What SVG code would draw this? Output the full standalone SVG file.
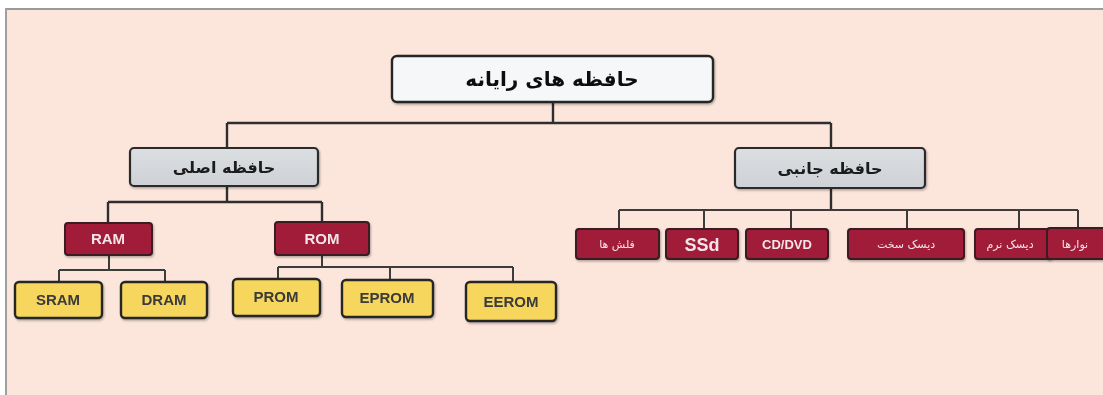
<svg xmlns="http://www.w3.org/2000/svg" width="1103" height="395" viewBox="0 0 1103 395">
  <style>
    .wire { fill: none; stroke: #3c3c3c; stroke-width: 2; }
    .wire-thick { fill: none; stroke: #2e2e2e; stroke-width: 2.4; }
    .root { fill: #f5f7f9; stroke: #262626; stroke-width: 2.4; }
    .group { fill: url(#grayFill); stroke: #2b2b2b; stroke-width: 2.2; }
    .red { fill: #a11a37; stroke: #3a1a20; stroke-width: 2; }
    .yellow { fill: #f6d65c; stroke: #262626; stroke-width: 2.4; }
    .fa { font-family: "DejaVu Sans", "Noto Sans", sans-serif; text-anchor: middle; direction: rtl; }
    .lat { font-family: "Liberation Sans", "DejaVu Sans", sans-serif; text-anchor: middle; font-weight: bold; }
    .t-root { font-size: 20px; font-weight: bold; fill: #111; }
    .t-group { font-size: 16px; font-weight: bold; fill: #1a1a1a; }
    .t-red { fill: #f3e6e8; }
    .t-yellow { fill: #3a3a3a; font-size: 15px; }
  </style>
  <defs>
    <linearGradient id="grayFill" x1="0" y1="0" x2="0" y2="1">
      <stop offset="0" stop-color="#dcdfe2"/>
      <stop offset="1" stop-color="#cdd1d5"/>
    </linearGradient>
    <filter id="shadow" x="-10%" y="-20%" width="130%" height="150%">
      <feDropShadow dx="1" dy="1.5" stdDeviation="1" flood-color="#000" flood-opacity="0.3"/>
    </filter>
  </defs>

  <!-- page -->
  <rect x="0" y="0" width="1103" height="395" fill="#ffffff"/>
  <rect x="5" y="9" width="1098" height="386" fill="#fce6db"/>
  <rect x="5" y="8" width="1098" height="2" fill="#9a9a9a"/>
  <rect x="5" y="8" width="2" height="387" fill="#a0a0a0"/>

  <!-- connectors -->
  <g id="connectors">
    <path class="wire-thick" d="M553 102 V123 M227 123 H831 M227 123 V148 M831 123 V148"/>
    <path class="wire-thick" d="M227 186 V202 M108 202 H322 M108 202 V223 M322 202 V222"/>
    <path class="wire-thick" d="M831 188 V210"/>
    <path class="wire" d="M619 210 H1078 M619 210 V229 M704 210 V229 M791 210 V229 M907 210 V229 M1019 210 V229 M1078 210 V229"/>
    <path class="wire" d="M109 255 V270 M59 270 H165 M59 270 V282 M165 270 V282"/>
    <path class="wire" d="M322 255 V267 M278 267 H513 M278 267 V279 M390 267 V280 M513 267 V282"/>
  </g>

  <!-- root -->
  <g id="node-root" filter="url(#shadow)">
    <rect class="root" x="392" y="56" width="321" height="46" rx="5"/>
    <text class="fa t-root" x="552" y="86">حافظه های رایانه</text>
  </g>

  <!-- second level -->
  <g id="node-main" filter="url(#shadow)">
    <rect class="group" x="130" y="148" width="188" height="38" rx="4"/>
    <text class="fa t-group" x="224" y="173">حافظه اصلی</text>
  </g>
  <g id="node-secondary" filter="url(#shadow)">
    <rect class="group" x="735" y="148" width="190" height="40" rx="4"/>
    <text class="fa t-group" x="830" y="174">حافظه جانبی</text>
  </g>

  <!-- main memory types -->
  <g id="node-ram" filter="url(#shadow)">
    <rect class="red" x="65" y="223" width="87" height="32" rx="3"/>
    <text class="lat t-red" x="108" y="244" font-size="15">RAM</text>
  </g>
  <g id="node-rom" filter="url(#shadow)">
    <rect class="red" x="275" y="222" width="94" height="33" rx="3"/>
    <text class="lat t-red" x="322" y="244" font-size="15">ROM</text>
  </g>

  <!-- RAM / ROM kinds -->
  <g id="node-sram" filter="url(#shadow)">
    <rect class="yellow" x="15" y="282" width="87" height="36" rx="4"/>
    <text class="lat t-yellow" x="58" y="305">SRAM</text>
  </g>
  <g id="node-dram" filter="url(#shadow)">
    <rect class="yellow" x="121" y="282" width="86" height="36" rx="4"/>
    <text class="lat t-yellow" x="164" y="305">DRAM</text>
  </g>
  <g id="node-prom" filter="url(#shadow)">
    <rect class="yellow" x="233" y="279" width="87" height="37" rx="4"/>
    <text class="lat t-yellow" x="276" y="302">PROM</text>
  </g>
  <g id="node-eprom" filter="url(#shadow)">
    <rect class="yellow" x="342" y="280" width="91" height="37" rx="4"/>
    <text class="lat t-yellow" x="387" y="303">EPROM</text>
  </g>
  <g id="node-eerom" filter="url(#shadow)">
    <rect class="yellow" x="466" y="282" width="90" height="39" rx="4"/>
    <text class="lat t-yellow" x="511" y="307">EEROM</text>
  </g>

  <!-- secondary storage types -->
  <g id="node-flash" filter="url(#shadow)">
    <rect class="red" x="576" y="229" width="83" height="30" rx="3"/>
    <text class="fa t-red" x="617" y="248" font-size="11">فلش ها</text>
  </g>
  <g id="node-ssd" filter="url(#shadow)">
    <rect class="red" x="666" y="229" width="72" height="30" rx="3"/>
    <text class="lat t-red" x="702" y="251" font-size="18" font-weight="normal">SSd</text>
  </g>
  <g id="node-cddvd" filter="url(#shadow)">
    <rect class="red" x="746" y="229" width="82" height="30" rx="3"/>
    <text class="lat t-red" x="787" y="249" font-size="13" font-weight="normal">CD/DVD</text>
  </g>
  <g id="node-hdd" filter="url(#shadow)">
    <rect class="red" x="848" y="229" width="116" height="30" rx="3"/>
    <text class="fa t-red" x="906" y="248" font-size="11">دیسک سخت</text>
  </g>
  <g id="node-floppy" filter="url(#shadow)">
    <rect class="red" x="975" y="229" width="76" height="30" rx="3"/>
    <text class="fa t-red" x="1010" y="248" font-size="11">دیسک نرم</text>
  </g>
  <g id="node-tape" filter="url(#shadow)">
    <rect class="red" x="1047" y="228" width="60" height="31" rx="3"/>
    <text class="fa t-red" x="1075" y="248" font-size="11">نوارها</text>
  </g>
</svg>
